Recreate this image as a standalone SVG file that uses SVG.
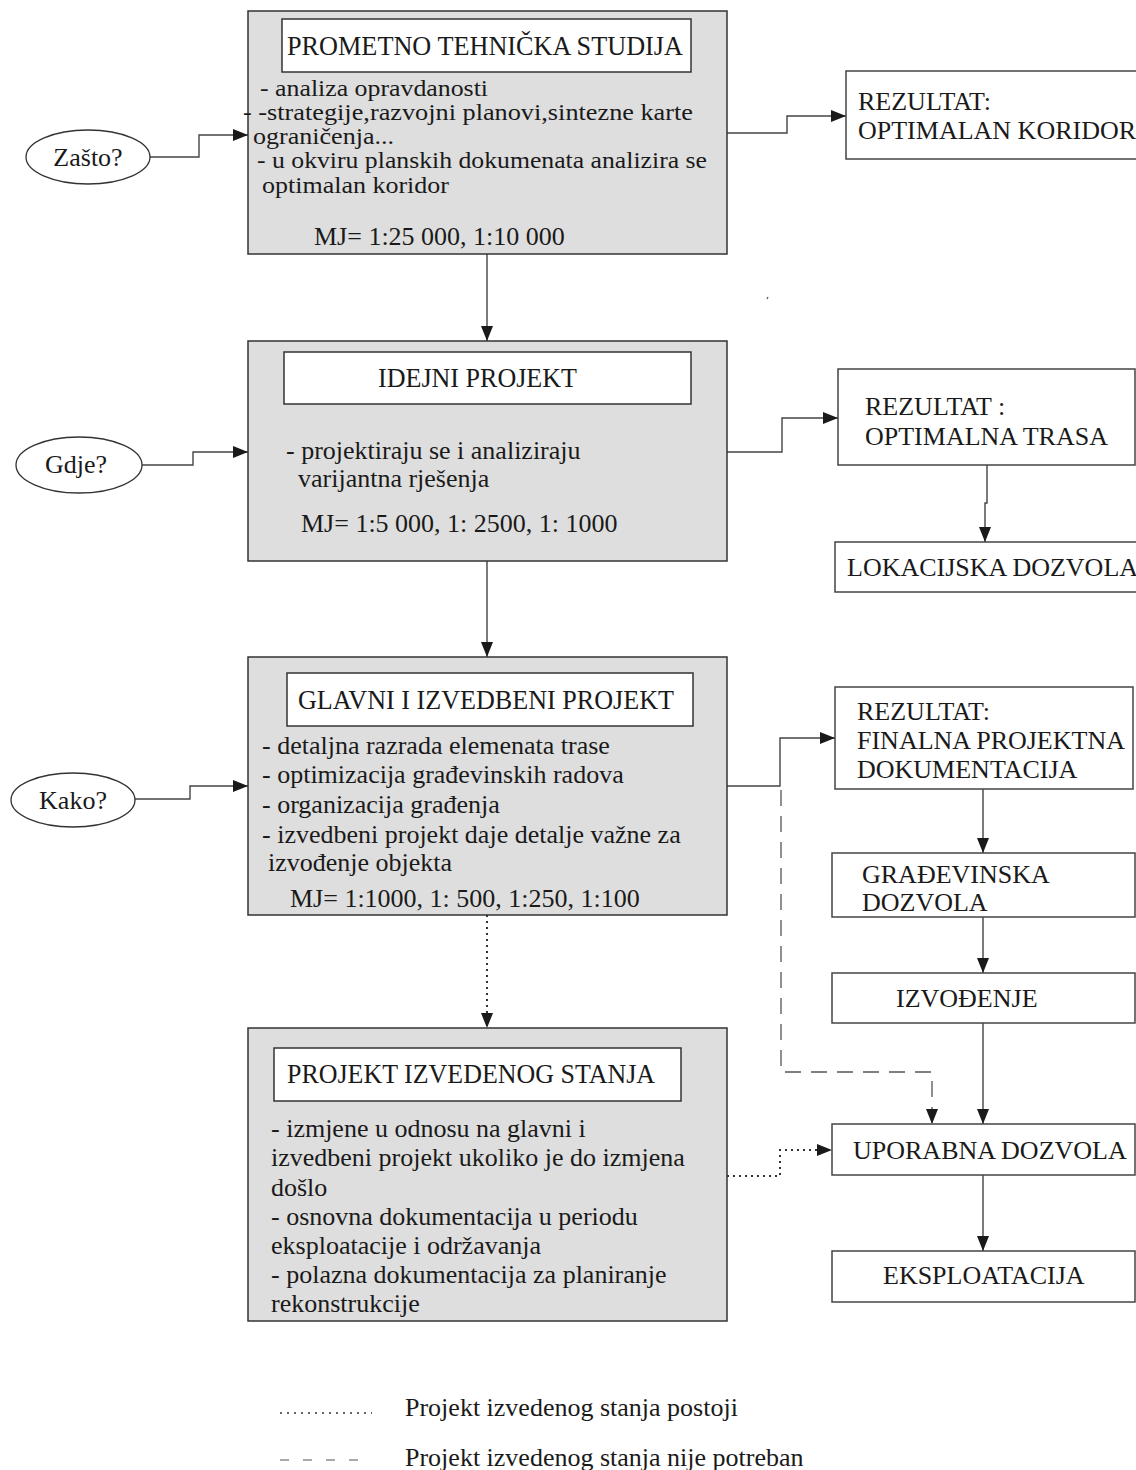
<svg xmlns="http://www.w3.org/2000/svg" width="1136" height="1470" viewBox="0 0 1136 1470">
<style>
.main{fill:#dedede;stroke:#333;stroke-width:1.5}
.inner{fill:#fff;stroke:#333;stroke-width:1.5}
.box{fill:#fff;stroke:#444;stroke-width:1.5}
.ell{fill:#fff;stroke:#333;stroke-width:1.3}
text{font-family:"Liberation Serif","Times New Roman",serif;font-size:26px;fill:#1a1a1a}
.t{font-size:27px}
.s{font-size:23px}
.c{text-anchor:middle}
.ln{fill:none;stroke:#444;stroke-width:1.4}
.dot{fill:none;stroke:#333;stroke-width:2;stroke-dasharray:2 4}
.dash{fill:none;stroke:#555;stroke-width:1.3;stroke-dasharray:16 10}
</style>
<defs>
<marker id="ah" markerUnits="userSpaceOnUse" markerWidth="15" markerHeight="12" refX="15" refY="6" orient="auto">
<path d="M0,0 L15,6 L0,12 z" fill="#1a1a1a"/>
</marker>
</defs>
<rect width="1136" height="1470" fill="#fff"/>

<g id="connectors">
<path class="ln" d="M150,157 H199 V135 H248" marker-end="url(#ah)"/>
<path class="ln" d="M142,465 H193 V452 H248" marker-end="url(#ah)"/>
<path class="ln" d="M135,799 H190 V786 H248" marker-end="url(#ah)"/>
<path class="ln" d="M487,254 V341" marker-end="url(#ah)"/>
<path class="ln" d="M487,561 V657" marker-end="url(#ah)"/>
<path class="dot" d="M487,915 V1028" marker-end="url(#ah)"/>
<path class="ln" d="M727,133 H787 V116 H846" marker-end="url(#ah)"/>
<path class="ln" d="M727,452 H782 V418 H838" marker-end="url(#ah)"/>
<path class="ln" d="M987,465 V503 H985 V542" marker-end="url(#ah)"/>
<path class="ln" d="M727,786 H780 V738 H835" marker-end="url(#ah)"/>
<path class="ln" d="M983,789 V853" marker-end="url(#ah)"/>
<path class="ln" d="M983,917 V973" marker-end="url(#ah)"/>
<path class="ln" d="M983,1023 V1124" marker-end="url(#ah)"/>
<path class="dash" d="M781,790 V1072 H932 V1124" marker-end="url(#ah)"/>
<path class="dot" d="M727,1176 H780 V1150 H832" marker-end="url(#ah)"/>
<path class="ln" d="M983,1175 V1251" marker-end="url(#ah)"/>
</g>

<g id="n-zasto">
<ellipse class="ell" cx="88" cy="157" rx="62" ry="27"/>
<text class="c" x="88" y="166">Zašto?</text>
</g>
<g id="n-gdje">
<ellipse class="ell" cx="79" cy="465" rx="63" ry="28"/>
<text class="c" x="76" y="473">Gdje?</text>
</g>
<g id="n-kako">
<ellipse class="ell" cx="73" cy="800" rx="62" ry="27"/>
<text class="c" x="73" y="809">Kako?</text>
</g>

<g id="n-prometno">
<rect class="main" x="248" y="11" width="479" height="243"/>
<rect class="inner" x="282" y="19" width="409" height="53"/>
<text class="t" x="287" y="55" textLength="396" lengthAdjust="spacingAndGlyphs">PROMETNO TEHNIČKA STUDIJA</text>
<text class="s" x="260" y="96" textLength="228" lengthAdjust="spacingAndGlyphs">- analiza opravdanosti</text>
<text class="s" x="243" y="120" textLength="450" lengthAdjust="spacingAndGlyphs">- -strategije,razvojni planovi,sintezne karte</text>
<text class="s" x="253" y="144" textLength="141" lengthAdjust="spacingAndGlyphs">ograničenja...</text>
<text class="s" x="257" y="168" textLength="450" lengthAdjust="spacingAndGlyphs">- u okviru planskih dokumenata analizira se</text>
<text class="s" x="262" y="193" textLength="187" lengthAdjust="spacingAndGlyphs">optimalan koridor</text>
<text x="314" y="245">MJ= 1:25 000, 1:10 000</text>
</g>

<g id="n-idejni">
<rect class="main" x="248" y="341" width="479" height="220"/>
<rect class="inner" x="284" y="352" width="407" height="52"/>
<text class="t" x="378" y="387" textLength="199" lengthAdjust="spacingAndGlyphs">IDEJNI PROJEKT</text>
<text x="286" y="459">- projektiraju se i analiziraju</text>
<text x="298" y="487">varijantna rješenja</text>
<text x="301" y="532">MJ= 1:5 000, 1: 2500, 1: 1000</text>
</g>

<g id="n-glavni">
<rect class="main" x="248" y="657" width="479" height="258"/>
<rect class="inner" x="287" y="673" width="406" height="53"/>
<text class="t" x="298" y="709" textLength="376" lengthAdjust="spacingAndGlyphs">GLAVNI I IZVEDBENI PROJEKT</text>
<text x="262" y="754">- detaljna razrada elemenata trase</text>
<text x="262" y="783">- optimizacija građevinskih radova</text>
<text x="262" y="813">- organizacija građenja</text>
<text x="262" y="843">- izvedbeni projekt daje detalje važne za</text>
<text x="268" y="871">izvođenje objekta</text>
<text x="290" y="907">MJ= 1:1000, 1: 500, 1:250, 1:100</text>
</g>

<g id="n-izvedeno">
<rect class="main" x="248" y="1028" width="479" height="293"/>
<rect class="inner" x="274" y="1048" width="407" height="53"/>
<text class="t" x="287" y="1083" textLength="368" lengthAdjust="spacingAndGlyphs">PROJEKT IZVEDENOG STANJA</text>
<text x="271" y="1137">- izmjene u odnosu na glavni i</text>
<text x="271" y="1166">izvedbeni projekt ukoliko je do izmjena</text>
<text x="271" y="1196">došlo</text>
<text x="271" y="1225">- osnovna dokumentacija u periodu</text>
<text x="271" y="1254">eksploatacije i održavanja</text>
<text x="271" y="1283">- polazna dokumentacija za planiranje</text>
<text x="271" y="1312">rekonstrukcije</text>
</g>

<g id="n-koridor">
<rect class="box" x="846" y="71" width="300" height="88"/>
<text x="858" y="110">REZULTAT:</text>
<text x="858" y="139">OPTIMALAN KORIDOR</text>
</g>
<g id="n-trasa">
<rect class="box" x="838" y="369" width="297" height="96"/>
<text x="865" y="415">REZULTAT :</text>
<text x="865" y="445">OPTIMALNA TRASA</text>
</g>
<g id="n-lokacijska">
<rect class="box" x="835" y="542" width="310" height="50"/>
<text x="847" y="576">LOKACIJSKA DOZVOLA</text>
</g>
<g id="n-finalna">
<rect class="box" x="835" y="687" width="298" height="102"/>
<text x="857" y="720">REZULTAT:</text>
<text x="857" y="749">FINALNA PROJEKTNA</text>
<text x="857" y="778">DOKUMENTACIJA</text>
</g>
<g id="n-gradjevinska">
<rect class="box" x="832" y="853" width="303" height="64"/>
<text x="862" y="883">GRAĐEVINSKA</text>
<text x="862" y="911">DOZVOLA</text>
</g>
<g id="n-izvodjenje">
<rect class="box" x="832" y="973" width="303" height="50"/>
<text x="896" y="1007">IZVOĐENJE</text>
</g>
<g id="n-uporabna">
<rect class="box" x="832" y="1124" width="303" height="51"/>
<text x="853" y="1159">UPORABNA DOZVOLA</text>
</g>
<g id="n-eksploatacija">
<rect class="box" x="832" y="1251" width="303" height="51"/>
<text x="883" y="1284">EKSPLOATACIJA</text>
</g>

<path d="M768,297 L767,299" stroke="#555" stroke-width="1.2"/>

<g id="legend">
<path d="M280,1413 H372" fill="none" stroke="#333" stroke-width="1.5" stroke-dasharray="2 5"/>
<text x="405" y="1416">Projekt izvedenog stanja postoji</text>
<path d="M280,1460 H372" fill="none" stroke="#555" stroke-width="1.2" stroke-dasharray="9 14"/>
<text x="405" y="1466">Projekt izvedenog stanja nije potreban</text>
</g>
</svg>
